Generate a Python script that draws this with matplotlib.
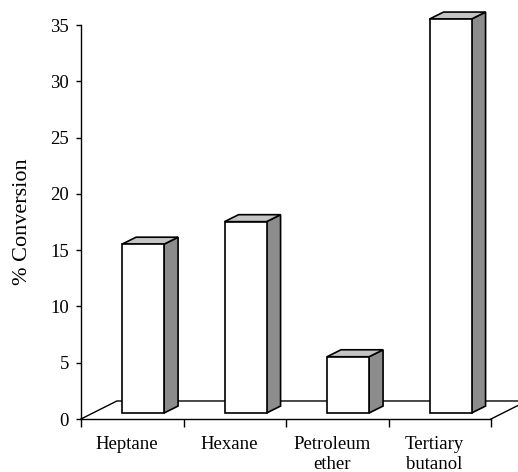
import numpy as np
from matplotlib import pyplot as plt
from matplotlib.patches import Polygon

# data
solvents = ['Heptane', 'Hexane', 'Petroleum\nether', 'Tertiary\nbutanol']
conversion = [15, 17, 5, 35]
yticks = [0, 5, 10, 15, 20, 25, 30, 35]

plt.rcParams['font.family'] = ['Liberation Serif', 'DejaVu Serif']

#pseudo 3d geometry in data units (x: category, y: % conversion)
floor_dx, floor_dy = 0.35, 1.6
bar_off, bar_w = 0.40, 0.41
bar_base = 0.53
side_dx, side_dy = 0.137, 0.62

fig = plt.figure(figsize=(5.18, 4.72), dpi=100)
ax = fig.add_axes([81/518, 53/472, 410/518, 394/472])
ax.set_xlim(0, len(solvents))
ax.set_ylim(0, 35)

#floor
n = len(solvents)
ax.plot([0, floor_dx, n + floor_dx], [0, floor_dy, floor_dy], color='black', lw=1, clip_on=False, zorder=1)
ax.plot([n, n + floor_dx], [0, floor_dy], color='black', lw=1, clip_on=False, zorder=1)

#bars
for i, val in enumerate(conversion):
    x0 = i + bar_off
    x1 = x0 + bar_w
    y0 = bar_base
    y1 = bar_base + val
    front = Polygon([(x0, y0), (x1, y0), (x1, y1), (x0, y1)], closed=True,
                    facecolor='white', edgecolor='black', lw=1.2, clip_on=False, zorder=3)
    side = Polygon([(x1, y0), (x1 + side_dx, y0 + side_dy), (x1 + side_dx, y1 + side_dy), (x1, y1)],
                   closed=True, facecolor='#8c8c8c', edgecolor='black', lw=1.2, clip_on=False, zorder=3)
    top = Polygon([(x0, y1), (x1, y1), (x1 + side_dx, y1 + side_dy), (x0 + side_dx, y1 + side_dy)],
                  closed=True, facecolor='#c4c4c4', edgecolor='black', lw=1.2, clip_on=False, zorder=3)
    ax.add_patch(side)
    ax.add_patch(top)
    ax.add_patch(front)

for s in ['top', 'right']:
    ax.spines[s].set_visible(False)
ax.spines['left'].set_linewidth(1)
ax.spines['bottom'].set_linewidth(1)

ax.set_yticks(yticks)
ax.tick_params(axis='y', length=3.6, width=1, labelsize=13.5, pad=5)
ax.set_xticks(np.arange(n + 1))
ax.set_xticklabels([])
ax.tick_params(axis='x', which='major', length=6, width=1)
ax.set_xticks(np.arange(n) + 0.45, minor=True)
ax.set_xticklabels(solvents, minor=True, fontsize=13.5, linespacing=1.25)
ax.tick_params(axis='x', which='minor', length=0, pad=12)

ax.set_ylabel('% Conversion', fontsize=16, labelpad=13)

plt.savefig('out.png', dpi=100)
